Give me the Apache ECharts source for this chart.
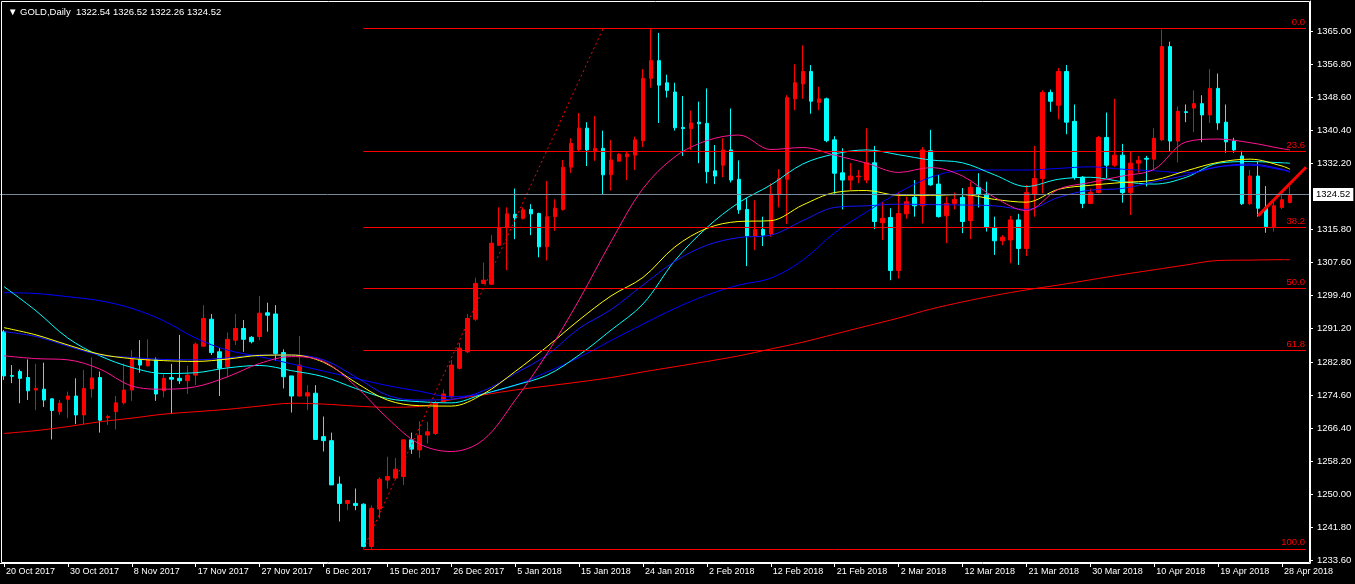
<!DOCTYPE html>
<html>
<head>
<meta charset="utf-8">
<script src="https://cdn.jsdelivr.net/npm/echarts@6.0.0/dist/echarts.min.js"></script>
<style>
html,body{margin:0;padding:0;background:#000;}
#chart{width:1355px;height:584px;}
</style>
</head>
<body>
<div id="chart"></div>
<script>
// ---- bar dates (daily bars, broker calendar) ----
const dates = [
'20 Oct 2017','21 Oct 2017','23 Oct 2017','24 Oct 2017','25 Oct 2017','26 Oct 2017','27 Oct 2017','28 Oct 2017','30 Oct 2017','31 Oct 2017',
'1 Nov 2017','2 Nov 2017','3 Nov 2017','4 Nov 2017','6 Nov 2017','7 Nov 2017','8 Nov 2017','9 Nov 2017','10 Nov 2017','11 Nov 2017',
'13 Nov 2017','14 Nov 2017','15 Nov 2017','16 Nov 2017','17 Nov 2017','18 Nov 2017','20 Nov 2017','21 Nov 2017','22 Nov 2017','23 Nov 2017',
'24 Nov 2017','25 Nov 2017','27 Nov 2017','28 Nov 2017','29 Nov 2017','30 Nov 2017','1 Dec 2017','2 Dec 2017','4 Dec 2017','5 Dec 2017',
'6 Dec 2017','7 Dec 2017','8 Dec 2017','9 Dec 2017','11 Dec 2017','12 Dec 2017','13 Dec 2017','14 Dec 2017','15 Dec 2017','16 Dec 2017',
'18 Dec 2017','19 Dec 2017','20 Dec 2017','21 Dec 2017','22 Dec 2017','23 Dec 2017','26 Dec 2017','27 Dec 2017','28 Dec 2017','29 Dec 2017',
'30 Dec 2017','2 Jan 2018','3 Jan 2018','4 Jan 2018','5 Jan 2018','6 Jan 2018','8 Jan 2018','9 Jan 2018','10 Jan 2018','11 Jan 2018',
'12 Jan 2018','13 Jan 2018','15 Jan 2018','16 Jan 2018','17 Jan 2018','18 Jan 2018','19 Jan 2018','20 Jan 2018','22 Jan 2018','23 Jan 2018',
'24 Jan 2018','25 Jan 2018','26 Jan 2018','27 Jan 2018','29 Jan 2018','30 Jan 2018','31 Jan 2018','1 Feb 2018','2 Feb 2018','3 Feb 2018',
'5 Feb 2018','6 Feb 2018','7 Feb 2018','8 Feb 2018','9 Feb 2018','10 Feb 2018','12 Feb 2018','13 Feb 2018','14 Feb 2018','15 Feb 2018',
'16 Feb 2018','17 Feb 2018','19 Feb 2018','20 Feb 2018','21 Feb 2018','22 Feb 2018','23 Feb 2018','24 Feb 2018','26 Feb 2018','27 Feb 2018',
'28 Feb 2018','1 Mar 2018','2 Mar 2018','3 Mar 2018','5 Mar 2018','6 Mar 2018','7 Mar 2018','8 Mar 2018','9 Mar 2018','10 Mar 2018',
'12 Mar 2018','13 Mar 2018','14 Mar 2018','15 Mar 2018','16 Mar 2018','17 Mar 2018','19 Mar 2018','20 Mar 2018','21 Mar 2018','22 Mar 2018',
'23 Mar 2018','24 Mar 2018','26 Mar 2018','27 Mar 2018','28 Mar 2018','29 Mar 2018','30 Mar 2018','2 Apr 2018','3 Apr 2018','4 Apr 2018',
'5 Apr 2018','6 Apr 2018','7 Apr 2018','9 Apr 2018','10 Apr 2018','11 Apr 2018','12 Apr 2018','13 Apr 2018','14 Apr 2018','16 Apr 2018',
'17 Apr 2018','18 Apr 2018','19 Apr 2018','20 Apr 2018','21 Apr 2018','23 Apr 2018','24 Apr 2018','25 Apr 2018','26 Apr 2018','27 Apr 2018',
'28 Apr 2018','30 Apr 2018','',''
];

// ---- OHLC ----
const open = [
1290.4,1279.5,1280.5,1279.0,1275.9,1276.1,1273.7,1270.5,1273.6,1274.4,
1269.7,1276.2,1279.0,1269.0,1270.5,1272.7,1275.9,1283.5,1281.9,1283.4,
1275.7,1279.0,1278.8,1278.2,1279.6,1286.8,1293.5,1285.4,1281.7,1288.3,
1291.2,1289.0,1289.2,1295.1,1294.8,1285.2,1279.4,1274.4,1274.4,1275.1,
1264.3,1263.3,1252.5,1247.7,1247.7,1247.5,1237.0,1246.3,1253.5,1254.0,
1254.4,1263.5,1261.0,1264.7,1265.1,1273.0,1274.2,1281.3,1285.4,1293.5,
1302.4,1302.2,1311.9,1316.3,1319.6,1318.6,1320.8,1319.8,1311.5,1319.0,
1320.8,1331.3,1335.7,1341.0,1335.4,1336.0,1329.4,1332.8,1333.9,1334.3,
1337.9,1353.4,1357.8,1352.3,1350.0,1341.2,1340.9,1342.5,1342.2,1330.4,
1331.8,1335.6,1328.3,1320.8,1314.2,1315.8,1314.7,1324.6,1328.3,1348.3,
1352.0,1355.1,1347.4,1348.3,1338.1,1329.9,1328.1,1328.9,1328.1,1332.4,
1317.5,1318.8,1305.6,1319.7,1323.8,1321.7,1335.4,1327.1,1319.2,1322.3,
1323.8,1318.0,1326.3,1324.6,1316.3,1313.0,1313.2,1318.2,1311.1,1324.6,
1328.5,1349.9,1346.7,1355.1,1342.7,1328.8,1322.3,1325.0,1338.7,1331.8,
1334.3,1325.0,1332.3,1333.5,1333.3,1338.1,1361.3,1337.8,1345.1,1346.0,
1347.1,1344.3,1350.9,1342.5,1337.8,1334.1,1322.2,1329.1,1321.3,1316.5,
1321.3,1322.54];
const high = [
1290.8,1282.1,1281.0,1283.5,1282.4,1282.7,1273.8,1273.4,1275.5,1278.8,
1280.9,1284.0,1280.5,1269.7,1274.4,1282.5,1285.8,1288.3,1288.5,1284.0,
1279.9,1282.4,1289.6,1281.9,1287.7,1297.0,1294.8,1286.3,1290.2,1294.8,
1293.3,1289.3,1299.3,1297.6,1297.0,1286.0,1279.4,1289.3,1277.1,1277.1,
1269.3,1265.3,1254.4,1248.4,1251.4,1247.7,1247.2,1254.2,1259.3,1259.0,
1263.7,1265.3,1268.1,1268.0,1273.2,1276.0,1283.3,1287.6,1294.8,1303.8,
1307.6,1314.4,1321.3,1321.3,1326.0,1321.3,1322.1,1320.0,1327.9,1323.3,
1333.1,1338.5,1344.8,1342.5,1344.0,1340.4,1338.1,1334.8,1335.3,1338.9,
1355.7,1365.8,1364.7,1354.3,1352.3,1349.0,1345.4,1347.6,1350.9,1336.8,
1338.5,1345.9,1333.0,1323.6,1323.1,1319.0,1327.3,1330.8,1349.2,1356.9,
1361.6,1356.7,1351.3,1348.6,1339.0,1336.0,1332.3,1330.6,1341.0,1336.6,
1322.7,1321.1,1325.2,1324.0,1328.1,1336.3,1340.6,1329.4,1324.0,1325.0,
1326.1,1327.7,1329.8,1327.7,1319.0,1314.4,1319.2,1319.7,1326.9,1336.6,
1350.4,1350.6,1356.0,1356.7,1346.9,1329.1,1326.0,1339.1,1344.9,1348.3,
1337.1,1335.2,1334.1,1334.1,1341.0,1365.5,1362.5,1346.4,1346.9,1350.4,
1349.2,1355.7,1354.6,1346.9,1338.6,1335.4,1330.6,1332.7,1326.6,1322.7,
1324.3,1326.52];
const low = [
1278.4,1277.6,1272.6,1273.4,1270.9,1271.7,1263.6,1269.7,1268.9,1267.4,
1267.4,1274.0,1265.3,1267.2,1266.1,1272.3,1273.2,1280.2,1281.7,1273.2,
1274.1,1269.9,1277.4,1274.9,1277.1,1286.6,1284.6,1274.4,1279.0,1287.1,
1285.4,1287.5,1288.3,1290.4,1283.2,1276.3,1270.3,1274.2,1270.9,1263.6,
1260.6,1252.3,1243.2,1246.0,1246.0,1236.8,1236.4,1244.0,1251.4,1253.7,
1252.3,1260.0,1259.0,1262.6,1264.7,1272.8,1273.8,1281.0,1285.1,1293.1,
1302.2,1302.0,1311.7,1305.7,1313.4,1318.3,1314.4,1308.9,1308.1,1315.5,
1320.5,1329.9,1335.2,1331.6,1332.9,1324.4,1325.5,1332.7,1328.1,1330.6,
1336.3,1351.1,1342.3,1348.6,1340.4,1334.1,1335.6,1332.3,1327.3,1327.1,
1328.8,1327.5,1319.7,1306.7,1310.7,1311.7,1314.0,1321.3,1317.2,1345.5,
1348.3,1344.6,1345.5,1337.5,1324.7,1320.8,1325.6,1327.3,1327.3,1315.9,
1313.2,1303.2,1303.6,1318.5,1319.0,1317.3,1326.7,1318.8,1312.4,1320.8,
1314.9,1313.4,1321.3,1315.3,1309.5,1311.9,1307.4,1307.0,1309.2,1319.0,
1324.8,1345.1,1343.2,1339.5,1328.2,1321.1,1322.1,1324.8,1328.6,1331.4,
1322.5,1319.4,1330.0,1326.5,1330.6,1337.8,1335.3,1332.5,1342.5,1340.0,
1337.5,1342.3,1340.6,1334.9,1334.9,1321.9,1321.9,1319.0,1315.0,1315.3,
1320.9,1322.26];
const close = [
1279.4,1279.3,1278.8,1275.7,1276.3,1273.4,1270.8,1272.6,1274.4,1269.7,
1276.3,1278.9,1268.4,1269.3,1272.7,1275.9,1283.5,1282.1,1283.5,1274.9,
1278.8,1278.6,1278.2,1279.6,1287.3,1293.7,1285.2,1281.3,1288.5,1291.2,
1288.5,1287.9,1295.0,1294.5,1285.0,1279.2,1274.4,1282.1,1275.2,1263.6,
1263.3,1252.3,1247.7,1248.4,1247.2,1237.0,1246.5,1253.7,1254.4,1256.2,
1263.5,1261.2,1264.6,1265.5,1272.8,1274.9,1282.1,1286.3,1293.7,1302.4,
1303.2,1312.4,1316.3,1319.7,1318.7,1320.7,1319.7,1311.5,1319.0,1321.1,
1331.3,1337.2,1341.0,1335.6,1336.0,1329.4,1333.1,1334.5,1334.6,1338.1,
1353.4,1357.8,1351.7,1350.4,1341.1,1340.9,1342.3,1342.1,1330.2,1329.1,
1335.6,1328.1,1320.7,1314.2,1315.8,1314.4,1324.6,1328.5,1348.6,1352.3,
1355.1,1347.7,1348.3,1337.9,1329.8,1328.1,1329.1,1329.1,1332.4,1317.8,
1318.6,1305.6,1319.8,1322.7,1321.7,1335.6,1326.9,1319.0,1322.3,1323.3,
1317.8,1326.3,1324.6,1316.3,1313.0,1313.9,1318.2,1311.1,1325.0,1328.5,
1349.9,1347.7,1355.1,1342.5,1328.8,1322.3,1325.0,1338.7,1331.8,1334.3,
1325.0,1332.3,1333.0,1333.3,1338.5,1361.3,1337.8,1345.2,1344.9,1347.1,
1344.3,1350.9,1342.3,1337.6,1335.6,1322.2,1329.1,1321.1,1316.5,1321.7,
1323.2,1324.52];

// ---- moving average lines, read at these bars ----
const maBars = [0,4,8,12,16,20,24,28,32,36,40,44,48,52,56,60,64,68,72,76,80,84,88,92,96,100,104,108,112,116,120,124,128,132,136,140,144,148,152,156,160,161];
const maRed = [1265.1,1265.8,1266.8,1268.0,1268.9,1269.9,1270.5,1271.1,1271.9,1272.6,1272.4,1271.9,1271.6,1271.8,1273.5,1274.7,1275.9,1276.9,1277.9,1279.0,1280.4,1281.7,1283.0,1284.4,1286.1,1287.8,1289.8,1291.8,1293.8,1296.0,1297.8,1299.4,1300.8,1302.0,1303.3,1304.6,1305.8,1307.0,1308.1,1308.2,1308.3,1308.3];
const maPink = [1284.4,1283.7,1283.4,1281.1,1276.9,1276.1,1276.7,1279.2,1282.5,1284.2,1283.0,1276.9,1268.9,1262.5,1260.6,1263.5,1273.4,1285.0,1298.3,1312.8,1326.0,1333.9,1337.9,1339.3,1335.7,1336.2,1334.3,1332.3,1330.0,1331.2,1329.1,1323.8,1320.5,1325.8,1327.5,1329.1,1330.8,1337.6,1338.3,1337.4,1335.9,1335.6];
const maYellow = [1291.4,1289.6,1287.1,1284.8,1283.7,1283.2,1283.0,1283.6,1284.5,1284.6,1282.8,1277.8,1273.4,1272.0,1271.9,1274.9,1280.5,1286.7,1293.3,1299.3,1303.9,1311.5,1316.1,1317.8,1318.0,1321.9,1325.0,1325.5,1324.3,1324.3,1324.5,1323.3,1322.6,1325.8,1326.8,1327.5,1328.1,1330.4,1332.5,1333.3,1331.6,1330.8];
const maCyan = [1301.6,1295.6,1288.8,1284.4,1281.5,1280.0,1280.2,1281.4,1282.0,1280.7,1279.2,1276.3,1273.8,1273.0,1272.7,1274.9,1277.1,1279.6,1284.6,1290.8,1297.3,1308.1,1316.3,1322.5,1326.9,1332.1,1334.6,1335.6,1334.4,1333.1,1332.4,1329.4,1326.5,1328.3,1328.8,1327.7,1327.1,1328.8,1332.3,1332.7,1332.4,1332.3];
const maBlueFast = [1290.4,1289.2,1286.8,1284.6,1284.0,1283.5,1283.4,1283.9,1284.6,1284.6,1283.4,1279.2,1274.6,1273.4,1273.6,1275.7,1280.0,1284.6,1291.2,1295.9,1302.0,1307.9,1311.9,1313.8,1314.4,1318.0,1321.3,1321.7,1322.1,1322.0,1321.9,1321.7,1320.8,1323.8,1325.6,1326.0,1327.7,1329.3,1331.4,1332.1,1330.8,1330.2];
const maBlueSlow = [1300.1,1299.9,1299.1,1298.1,1296.2,1293.1,1288.8,1285.8,1284.2,1282.4,1280.6,1278.8,1277.0,1275.6,1274.2,1275.0,1277.1,1280.4,1284.0,1288.2,1292.3,1296.2,1299.5,1302.0,1303.7,1308.2,1315.0,1320.2,1325.0,1328.8,1330.5,1330.6,1330.6,1331.0,1331.4,1330.8,1330.4,1329.9,1331.4,1331.8,1330.6,1330.0];

// ---- Fibonacci retracement ----
const fibLabels = ['0.0','23.6','38.2','50.0','61.8','100.0'];
const fibPrices = [1365.8,1335.3,1316.4,1301.1,1285.8,1236.4];
const fibStartBar = 45;
const fibEndBar = 163;
const fibDiag = [[45,1236.4],[75,1365.8]];
const trendLine = [[157,1319.2],[163,1331.3]];

// ---- price axis ----
const yTicks = [1233.6,1241.8,1250.0,1258.2,1266.4,1274.6,1282.8,1291.2,1299.4,1307.6,1315.8,1332.2,1340.4,1348.6,1356.8,1365.0];
const bidPrice = 1324.52;
const titleText = '\u25BC GOLD,Daily  1322.54 1326.52 1322.26 1324.52';

const FONT = "'Liberation Sans', Arial, sans-serif";

const candleData = open.map((o, i) => [o, close[i], low[i], high[i]]);
const maPairs = arr => maBars.map((b, i) => [b, arr[i]]);

const markData = [];
fibPrices.forEach((p, i) => {
  markData.push([
    {coord: [fibStartBar, p], name: fibLabels[i],
     label: {show: true, position: 'insideEndTop', formatter: '{b}', color: '#ff0000', fontSize: 9.5, fontFamily: FONT, distance: 1}},
    {coord: [fibEndBar, p]}
  ]);
});
markData.push([
  {coord: fibDiag[0], lineStyle: {type: [2, 3], width: 1, color: '#ff0000'}, label: {show: false}},
  {coord: fibDiag[1]}
]);
markData.push([
  {coord: trendLine[0], lineStyle: {type: 'solid', width: 3, color: '#ff0000'}, label: {show: false}},
  {coord: trendLine[1]}
]);
markData.push({
  yAxis: bidPrice,
  lineStyle: {color: '#778899', width: 1, type: 'solid'},
  label: {show: true, position: 'end', formatter: bidPrice.toFixed(2), color: '#000', backgroundColor: '#fff',
          padding: [2, 3, 1, 3], fontSize: 9.5, fontFamily: FONT, distance: 3}
});

function maSeries(name, arr, color) {
  return {
    name, type: 'line', data: maPairs(arr), symbol: 'none', smooth: 0.35,
    lineStyle: {color, width: 1}, silent: true, z: 3
  };
}

const chart = echarts.init(document.getElementById('chart'), null, {renderer: 'canvas'});
chart.setOption({
  backgroundColor: '#000',
  animation: false,
  title: {
    text: titleText, left: 3, top: 2,
    textStyle: {color: '#fff', fontSize: 9.5, fontWeight: 'normal', fontFamily: FONT}
  },
  grid: {left: -2, top: 1, width: 1312, height: 562},
  xAxis: {
    type: 'category', data: dates, boundaryGap: true,
    axisLine: {show: true, lineStyle: {color: '#fff', width: 1}},
    axisTick: {show: true, alignWithLabel: true, interval: 7, length: 4, lineStyle: {color: '#fff'}},
    axisLabel: {interval: 7, align: 'left', color: '#fff', fontSize: 9, fontFamily: FONT, margin: 4, padding: [0, 0, 0, 2]},
    splitLine: {show: false}
  },
  yAxis: {
    type: 'value', position: 'right', min: 1232.88, max: 1372.63,
    axisLine: {show: true, lineStyle: {color: '#fff', width: 1}},
    axisTick: {show: true, customValues: yTicks, length: 3, lineStyle: {color: '#fff'}},
    axisLabel: {customValues: yTicks, formatter: v => Number(v).toFixed(2), color: '#fff', fontSize: 9.5, fontFamily: FONT, margin: 7},
    splitLine: {show: false}
  },
  graphic: [{
    type: 'rect', silent: true, z: 100,
    shape: {x: 1.5, y: 1.5, width: 1308, height: 561},
    style: {fill: null, stroke: '#fff', lineWidth: 1}
  }],
  series: [
    {
      name: 'GOLD', type: 'candlestick', data: candleData, barWidth: 4, z: 2,
      itemStyle: {color: '#ff0000', color0: '#00ffff', borderColor: '#ff0000', borderColor0: '#00ffff', borderWidth: 1},
      markLine: {
        silent: true, symbol: ['none', 'none'], animation: false,
        lineStyle: {color: '#ff0000', width: 1, type: 'solid'},
        label: {show: false},
        data: markData
      }
    },
    maSeries('MA red', maRed, '#ff0000'),
    maSeries('MA blue slow', maBlueSlow, '#0000ff'),
    maSeries('MA cyan', maCyan, '#00ffff'),
    maSeries('MA blue fast', maBlueFast, '#1414ff'),
    maSeries('MA yellow', maYellow, '#ffff00'),
    maSeries('MA pink', maPink, '#ff1493')
  ]
});
</script>
</body>
</html>
